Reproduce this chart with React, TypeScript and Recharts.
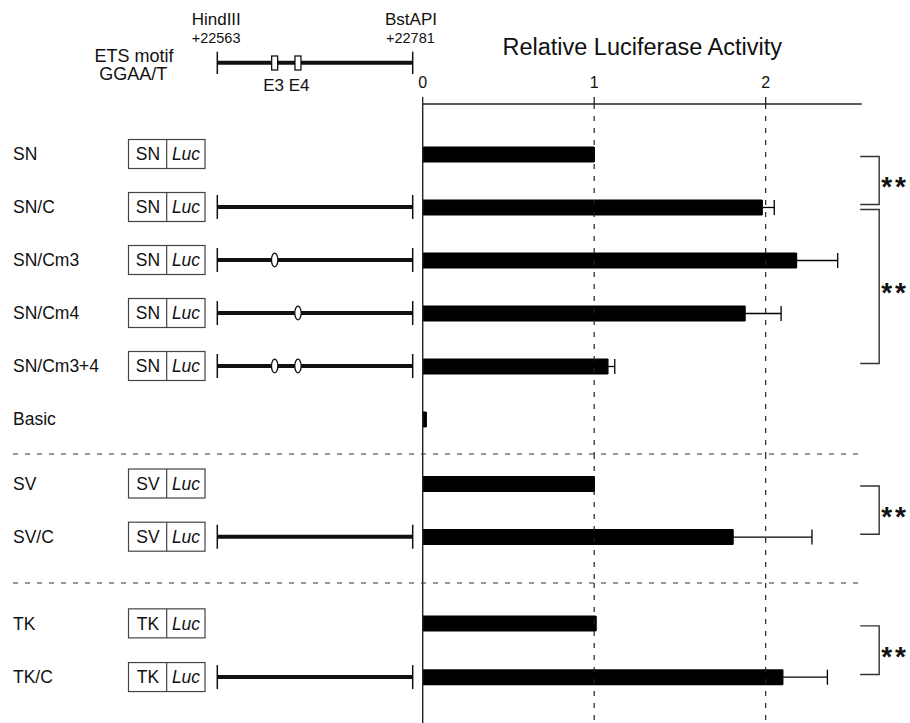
import React from 'react';
import { BarChart, Bar, XAxis, YAxis, ErrorBar, ReferenceLine } from 'recharts';

// Reporter constructs, top to bottom
const constructs = ['SN', 'SN/C', 'SN/Cm3', 'SN/Cm4', 'SN/Cm3+4', 'Basic', 'SV', 'SV/C', 'TK', 'TK/C'];
const activity = [1.0, 1.98, 2.18, 1.88, 1.08, 0.02, 1.0, 1.81, 1.01, 2.1];
const activityErr = [0, 0.07, 0.24, 0.21, 0.04, 0, 0, 0.46, 0, 0.26];
const promoters = ['SN', 'SN', 'SN', 'SN', 'SN', '', 'SV', 'SV', 'TK', 'TK'];
const withFragment = [false, true, true, true, true, false, false, true, false, true];
const mutatedSites = [[], [], ['E3'], ['E4'], ['E3', 'E4'], [], [], [], [], []];

// Constructs grouped by promoter, each group drawn as its own panel
const panelGroups = [
  ['SN', 'SN/C', 'SN/Cm3', 'SN/Cm4', 'SN/Cm3+4', 'Basic'],
  ['SV', 'SV/C'],
  ['TK', 'TK/C'],
];

const significance = [
  { from: 'SN', to: 'SN/C', mark: '**' },
  { from: 'SN/C', to: 'SN/Cm3+4', mark: '**' },
  { from: 'SV', to: 'SV/C', mark: '**' },
  { from: 'TK', to: 'TK/C', mark: '**' },
];

const xTicks = [0, 1, 2];
const xMax = 2.56;

// Cloned fragment and its ETS motifs (GGAA/T)
const fragmentEnds = ['HindIII', 'BstAPI'];
const fragmentPos = [22563, 22781];
const etsSites = ['E3', 'E4'];
const etsPos = [22627, 22653];

const FONT = '"Liberation Sans", Arial, sans-serif';
const INK = '#111';

// layout
const W = 910;
const PLOT_LEFT = 422.7;
const PLOT_RIGHT = 861.7;
const AXIS_H = 104;
const FRAG_X0 = 217.3;
const FRAG_X1 = 412.7;
const panelHeights = [454, 129, 140];
const panelPads = [
  { top: 23.5, bottom: 8.5 },
  { top: 2.9, bottom: 19.7 },
  { top: 13.5, bottom: 19.1 },
];

const fragX = (bp: number) =>
  FRAG_X0 + ((bp - fragmentPos[0]) / (fragmentPos[1] - fragmentPos[0])) * (FRAG_X1 - FRAG_X0);

const FragmentLine = ({ y, sites }: { y: number; sites: string[] }) => (
  <g>
    <line x1={FRAG_X0} x2={FRAG_X1} y1={y} y2={y} stroke={INK} strokeWidth={4} />
    <line x1={FRAG_X0} x2={FRAG_X0} y1={y - 12} y2={y + 12} stroke={INK} strokeWidth={1.5} />
    <line x1={FRAG_X1} x2={FRAG_X1} y1={y - 12} y2={y + 12} stroke={INK} strokeWidth={1.5} />
    {sites.map((s) => (
      <ellipse key={s} cx={fragX(etsPos[etsSites.indexOf(s)])} cy={y} rx={3.2} ry={6.8}
        fill="#fff" stroke={INK} strokeWidth={1.3} />
    ))}
  </g>
);

const RowTick = (props: any) => {
  const { y, payload } = props;
  const i = constructs.indexOf(payload.value);
  const promoter = promoters[i];
  return (
    <g fontFamily={FONT} fill={INK}>
      <text x={13} y={y} dy="0.358em" fontSize={17.5} fill={INK}>{payload.value}</text>
      {promoter && (
        <g>
          <rect x={128.5} y={y - 14.5} width={76.5} height={29} fill="#fff" stroke="#444" strokeWidth={1.2} />
          <line x1={166.7} x2={166.7} y1={y - 14.5} y2={y + 14.5} stroke="#444" strokeWidth={1.2} />
          <text x={148} y={y} dy="0.358em" fontSize={17.5} textAnchor="middle" fill={INK}>{promoter}</text>
          <text x={186} y={y} dy="0.358em" fontSize={17.5} textAnchor="middle" fontStyle="italic" fill={INK}>Luc</text>
        </g>
      )}
      {withFragment[i] && <FragmentLine y={y} sites={mutatedSites[i]} />}
    </g>
  );
};

const Bracket = (props: any) => {
  const { x1, y1, y2, mark } = props;
  const top = Math.min(y1, y2) + 2.5;
  const bot = Math.max(y1, y2) - 2.5;
  return (
    <g>
      <path d={`M${x1 - 19},${top}H${x1}V${bot}H${x1 - 19}`} fill="none" stroke="#333" strokeWidth={1.4} />
      <text x={x1 + 2} y={(top + bot) / 2} dy="0.57em" fontSize={28} fontWeight="bold"
        letterSpacing={3} fontFamily={FONT} fill={INK}>{mark}</text>
    </g>
  );
};

const Panel = ({ index }: { index: number }) => {
  const names = panelGroups[index];
  // error bars only reach to the right of each bar
  const data = names.map((n) => {
    const i = constructs.indexOf(n);
    return { name: n, value: activity[i], err: [0, activityErr[i]] };
  });
  const showAxis = index === 0;
  const brackets = significance.filter((b) => names.includes(b.from) && names.includes(b.to));
  return (
    <BarChart
      width={W}
      height={panelHeights[index]}
      data={data}
      layout="vertical"
      margin={{ top: 0, right: W - PLOT_RIGHT, bottom: 0, left: 0 }}
      barSize={16}
    >
      <XAxis
        type="number"
        orientation="top"
        domain={[0, xMax]}
        ticks={xTicks}
        hide={!showAxis}
        height={AXIS_H}
        tickSize={7}
        tickMargin={9}
        tick={{ fontSize: 16, fill: INK, fontFamily: FONT }}
        tickLine={{ stroke: '#222', strokeWidth: 1.3 }}
        axisLine={{ stroke: '#222', strokeWidth: 1.4 }}
        label={{
          value: 'Relative Luciferase Activity',
          position: 'insideTop',
          offset: 38,
          fontSize: 23.5,
          fill: INK,
          fontFamily: FONT,
        }}
      />
      <YAxis
        type="category"
        dataKey="name"
        width={PLOT_LEFT}
        padding={panelPads[index]}
        interval={0}
        tick={<RowTick />}
        tickLine={false}
        axisLine={{ stroke: '#222', strokeWidth: 1.4 }}
      />
      {xTicks.slice(1).map((v) => (
        <ReferenceLine key={v} x={v} stroke="#222" strokeWidth={1.2} strokeDasharray="5 7" />
      ))}
      <Bar dataKey="value" fill="#000" isAnimationActive={false}>
        <ErrorBar dataKey="err" direction="x" width={7.5} stroke="#000" strokeWidth={1.3} />
      </Bar>
      {brackets.map((b) => (
        <ReferenceLine
          key={b.from + b.to}
          ifOverflow="visible"
          segment={[{ x: 2.662, y: b.from }, { x: 2.662, y: b.to }]}
          shape={(p: any) => <Bracket {...p} mark={b.mark} />}
        />
      ))}
    </BarChart>
  );
};

// Map of the cloned fragment drawn above the construct column
const FragmentMap = () => {
  const siteMid = (fragX(etsPos[0]) + fragX(etsPos[1])) / 2;
  return (
    <svg width={460} height={100} style={{ position: 'absolute', left: 0, top: 0 }} fontFamily={FONT}>
      <text x={134} y={61.7} fontSize={18} textAnchor="middle" fill={INK}>ETS motif</text>
      <text x={133.3} y={80} fontSize={18} textAnchor="middle" fill={INK}>GGAA/T</text>
      {fragmentEnds.map((name, k) => (
        <g key={name}>
          <text x={k === 0 ? 191.7 : 385} y={25} fontSize={17} fill={INK}>{name}</text>
          <text x={k === 0 ? 191.7 : 386} y={42.7} fontSize={14.5} fill={INK}>+{fragmentPos[k]}</text>
          <line x1={fragX(fragmentPos[k])} x2={fragX(fragmentPos[k])} y1={51.7} y2={74} stroke={INK} strokeWidth={1.5} />
        </g>
      ))}
      <line x1={FRAG_X0} x2={FRAG_X1} y1={62.7} y2={62.7} stroke={INK} strokeWidth={4} />
      {etsSites.map((s, k) => (
        <rect key={s} x={fragX(etsPos[k]) - 3} y={56} width={6} height={14} fill="#fff" stroke={INK} strokeWidth={1.3} />
      ))}
      <text x={siteMid} y={90.7} fontSize={17} textAnchor="middle" fill={INK}>{etsSites.join(' ')}</text>
    </svg>
  );
};

const Separator = ({ y }: { y: number }) => (
  <svg width={W} height={2} style={{ position: 'absolute', left: 0, top: y - 1 }}>
    <line x1={13} x2={PLOT_RIGHT} y1={1} y2={1} stroke="#333" strokeWidth={1.2} strokeDasharray="5 7" />
  </svg>
);

export default function App() {
  const separatorYs = [panelHeights[0], panelHeights[0] + panelHeights[1]];
  return (
    <div style={{ position: 'absolute', left: 0, top: 0, width: W, height: 723, background: '#fff', fontFamily: FONT }}>
      {panelGroups.map((_, i) => (
        <Panel key={i} index={i} />
      ))}
      <FragmentMap />
      {separatorYs.map((y) => (
        <Separator key={y} y={y} />
      ))}
    </div>
  );
}
